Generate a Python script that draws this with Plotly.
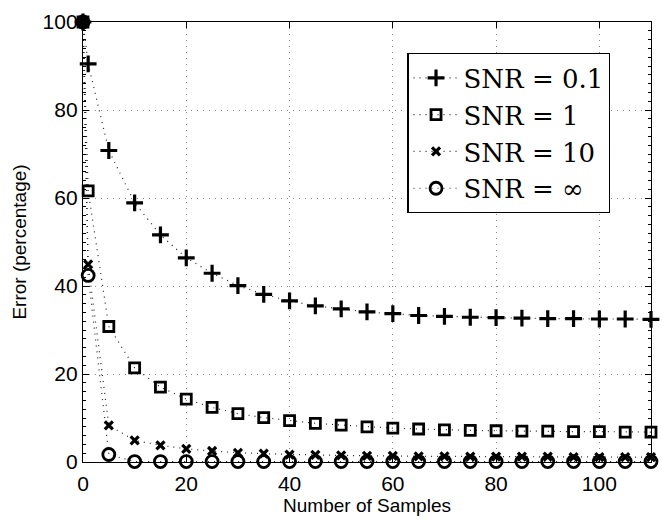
import plotly.graph_objects as go

# Sample counts at which the error was measured
samples = [0, 1, 5, 10, 15, 20, 25, 30, 35, 40, 45, 50, 55, 60, 65, 70,
           75, 80, 85, 90, 95, 100, 105, 110]

# Error (percentage) for each noise level
err_snr_01 = [100, 90.5, 70.8, 58.9, 51.6, 46.4, 42.9, 40.1, 38.1, 36.6, 35.5, 34.8,
              34.1, 33.7, 33.3, 33.1, 32.9, 32.8, 32.7, 32.6, 32.6, 32.5, 32.5, 32.4]
err_snr_1 = [100, 61.6, 30.8, 21.4, 17.0, 14.3, 12.4, 11.0, 10.1, 9.4, 8.8, 8.4,
             8.0, 7.7, 7.5, 7.3, 7.2, 7.1, 7.0, 7.0, 6.9, 6.9, 6.8, 6.8]
err_snr_10 = [100, 44.9, 8.3, 4.9, 3.8, 3.0, 2.5, 2.1, 1.9, 1.7, 1.6, 1.5,
              1.4, 1.4, 1.3, 1.3, 1.2, 1.2, 1.2, 1.2, 1.1, 1.1, 1.1, 1.1]
err_snr_inf = [100, 42.4, 1.7, 0.1, 0.1, 0.1, 0.1, 0.1, 0.1, 0.1, 0.1, 0.1,
               0.1, 0.1, 0.1, 0.1, 0.1, 0.1, 0.1, 0.1, 0.1, 0.1, 0.1, 0.1]

series = [
    ("SNR = 0.1", err_snr_01, "cross-thin", 12, 3.2),
    ("SNR = 1", err_snr_1, "square-open", 10, 2.8),
    ("SNR = 10", err_snr_10, "x-thin", 8, 3.2),
    ("SNR = \u221e", err_snr_inf, "circle-open", 12, 2.8),
]

fig = go.Figure()
for name, vals, sym, size, lw in series:
    fig.add_trace(go.Scatter(
        x=samples, y=vals, name=name, mode="lines+markers",
        line=dict(color="#222222", width=1.2, dash="1px,5px"),
        marker=dict(symbol=sym, size=size, color="black",
                    line=dict(color="black", width=lw)),
        cliponaxis=False,
    ))

sans = "Liberation Sans, Arial, sans-serif"
axis_common = dict(
    showline=True, linecolor="black", linewidth=1.4, mirror="allticks",
    ticks="inside", ticklen=6, tickcolor="black", tickwidth=1,
    showgrid=True, gridcolor="#888888", griddash="1px,5px", gridwidth=1,
    zeroline=False,
    tickfont=dict(family=sans, size=21, color="black"),
)

fig.update_xaxes(
    range=[0, 110], tickvals=[0, 20, 40, 60, 80, 100],
    ticklabelstandoff=3,
    title=dict(text="Number of Samples", standoff=0,
               font=dict(family=sans, size=19, color="black")),
    **axis_common,
)
fig.update_yaxes(
    range=[0, 100], tickvals=[0, 20, 40, 60, 80, 100],
    ticklabelstandoff=0,
    minor=dict(dtick=2, ticks="inside", ticklen=3, tickcolor="black", showgrid=False),
    title=dict(text="Error (percentage)", standoff=10,
               font=dict(family=sans, size=19, color="black")),
    **axis_common,
)

fig.update_layout(
    width=662, height=521,
    margin=dict(l=83, r=10, t=14, b=59),
    plot_bgcolor="white", paper_bgcolor="white",
    showlegend=True,
    legend=dict(
        x=0.571, y=0.929, xanchor="left", yanchor="top",
        bgcolor="white", bordercolor="black", borderwidth=1.2,
        font=dict(family="DejaVu Serif, serif", size=26, color="black"),
        itemwidth=45, tracegroupgap=0,
    ),
)

fig.write_html("out.html")
